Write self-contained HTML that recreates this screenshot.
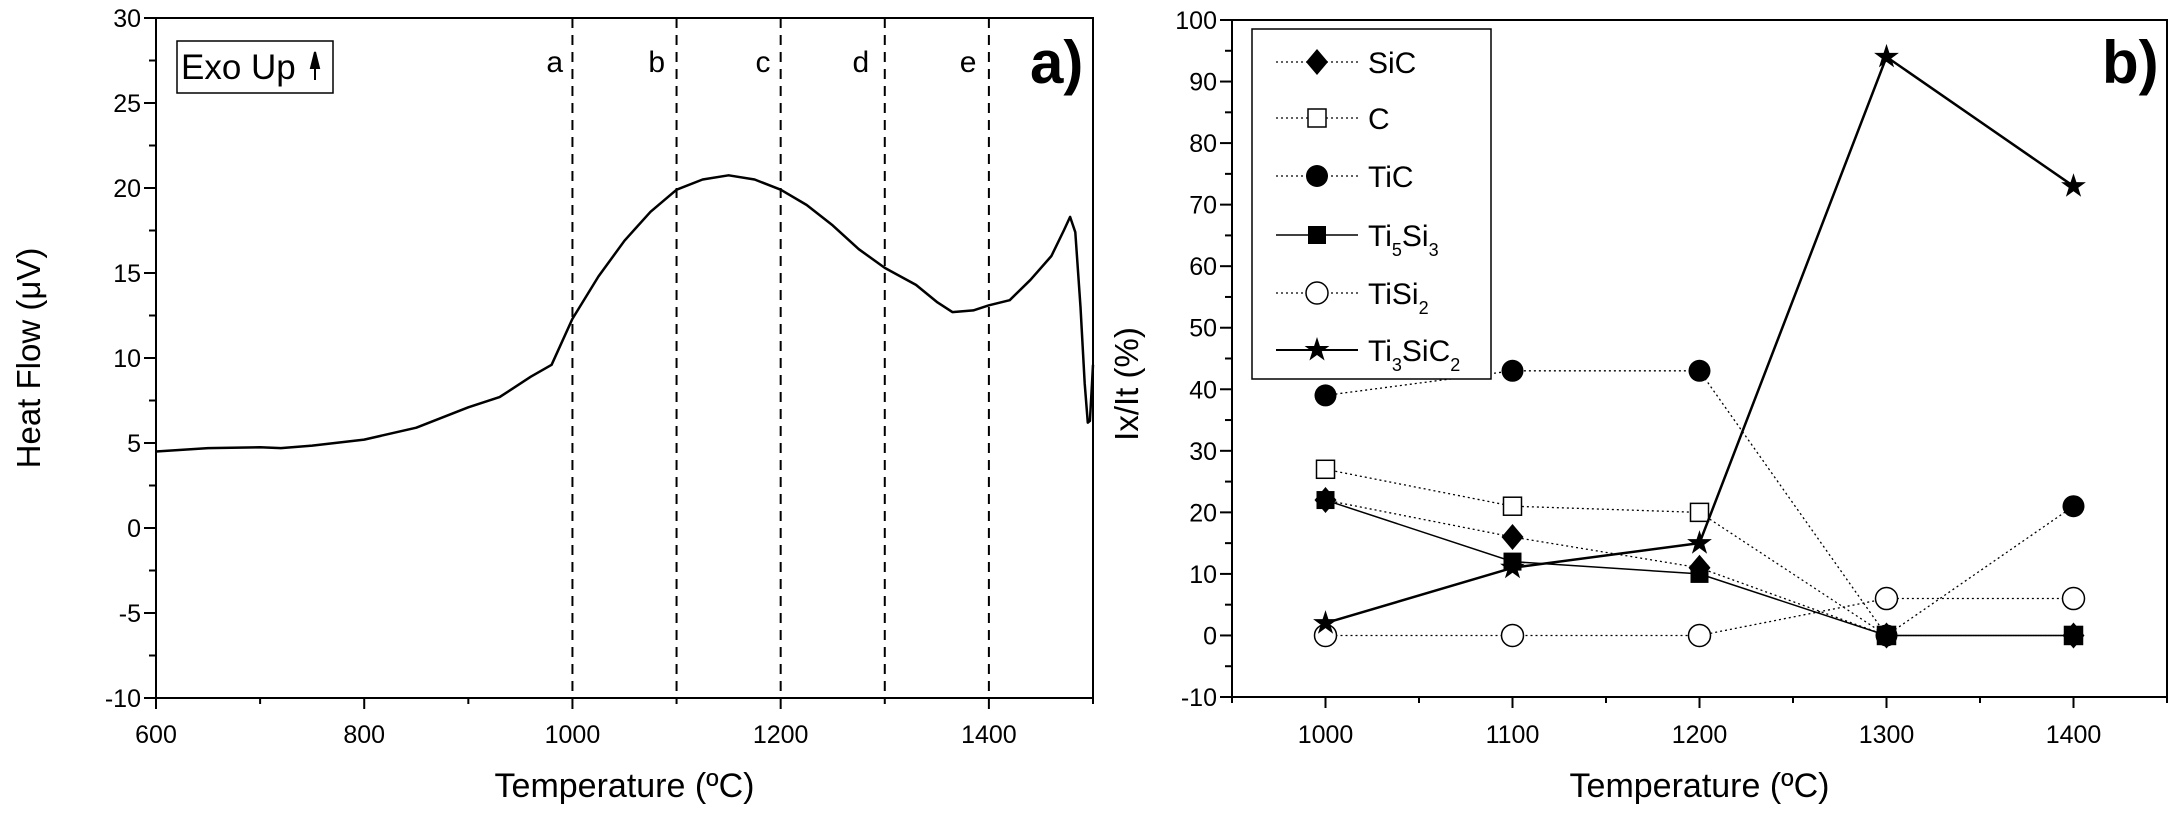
<!DOCTYPE html>
<html><head><meta charset="utf-8"><style>
html,body{margin:0;padding:0;background:#fff;}
svg{display:block;font-family:"Liberation Sans",Arial,sans-serif;}
</style></head><body>
<svg id="s" width="2175" height="821" viewBox="0 0 2175 821" xmlns="http://www.w3.org/2000/svg">
<g id="ga"></g>
<g id="gb"></g>
</svg>
<script>
// ---- Chart a data ----
const dscTemps = [600,650,700,720,750,800,850,900,930,960,980,1000,1025,1050,1075,1100,1125,1150,1175,1200,1225,1250,1275,1300,1330,1350,1365,1385,1400,1420,1440,1460,1472,1478,1483,1488,1492,1495,1497,1499,1500];
const dscFlow  = [4.5,4.7,4.75,4.7,4.85,5.2,5.9,7.1,7.7,8.9,9.6,12.3,14.8,16.9,18.6,19.9,20.5,20.75,20.5,19.9,19.0,17.8,16.4,15.3,14.3,13.3,12.7,12.8,13.1,13.4,14.6,16.0,17.5,18.3,17.4,13.0,8.5,6.2,6.3,8.5,9.6];
const aXTicks = [600,800,1000,1200,1400];
const aYTicks = [-10,-5,0,5,10,15,20,25,30];
const stageTemps = [1000,1100,1200,1300,1400];
const stageLabels = ['a','b','c','d','e'];
const stageLabelTemps = [983,1081,1183,1277,1380];
// ---- Chart b data ----
const bTemps = [1000,1100,1200,1300,1400];
const sicVals = [22,16,11,0,0];
const cVals = [27,21,20,0,0];
const ticVals = [39,43,43,0,21];
const ti5si3Vals = [22,12,10,0,0];
const tisi2Vals = [0,0,0,6,6];
const ti3sic2Vals = [2,11,15,94,73];
const bXTicks = [1000,1100,1200,1300,1400];
const bYTicks = [-10,0,10,20,30,40,50,60,70,80,90,100];

const NS='http://www.w3.org/2000/svg';
function mk(parent,tag,attrs,text){const e=document.createElementNS(NS,tag);for(const k in attrs)e.setAttribute(k,attrs[k]);if(text!==undefined)e.textContent=text;parent.appendChild(e);return e;}

// ===== Chart a =====
const ga=document.getElementById('ga');
const aL=156,aR=1093,aT=18,aB=698;
const ax=v=>aL+(v-600)/900*(aR-aL);
const ay=v=>aB-(v+10)/40*(aB-aT);
let fr=mk(ga,'rect',{x:aL,y:aT,width:aR-aL,height:aB-aT,fill:'none',stroke:'#000','stroke-width':2});


for(let v=600;v<=1500;v+=100){const maj=v%200===0;const t=mk(ga,'line',{x1:ax(v),x2:ax(v),y1:aB,y2:aB+(maj?11:6),stroke:'#000','stroke-width':2});

}
aXTicks.forEach(v=>{const t=mk(ga,'text',{x:ax(v),y:743,'font-size':25,'text-anchor':'middle'},String(v));

});
for(let v=-10;v<=30;v+=2.5){const maj=v%5===0;const t=mk(ga,'line',{x1:aL-(maj?12:7),x2:aL,y1:ay(v),y2:ay(v),stroke:'#000','stroke-width':2});

}
aYTicks.forEach(v=>{const t=mk(ga,'text',{x:aL-15,y:ay(v)+9,'font-size':25,'text-anchor':'end'},String(v));

});
stageTemps.forEach((v,i)=>{const l=mk(ga,'line',{x1:ax(v),x2:ax(v),y1:aT,y2:aB,stroke:'#000','stroke-width':2,'stroke-dasharray':'10,7'});


const t=mk(ga,'text',{x:ax(stageLabelTemps[i]),y:72,'font-size':30,'text-anchor':'middle'},stageLabels[i]);

});
let d='';dscTemps.forEach((v,i)=>{d+=(i?'L':'M')+ax(v).toFixed(1)+','+ay(dscFlow[i]).toFixed(1);});
let cp=mk(ga,'path',{d:d,fill:'none',stroke:'#000','stroke-width':2.5,'stroke-linejoin':'round'});


let eb=mk(ga,'rect',{x:177,y:41,width:156,height:52,fill:'#fff',stroke:'#000','stroke-width':1.5});


let et=mk(ga,'text',{x:181,y:79,'font-size':35},'Exo Up');


let ea=mk(ga,'path',{d:'M315,52 L311,68 L319,68 Z M315,60 L315,80',stroke:'#000','stroke-width':2,fill:'#000'});


let pa=mk(ga,'text',{x:1030,y:83,'font-size':60,'font-weight':'bold'},'a)');


let xta=mk(ga,'text',{x:(aL+aR)/2,y:797,'font-size':34,'text-anchor':'middle'},'Temperature (ºC)');


let yta=mk(ga,'text',{x:0,y:0,'font-size':33,'text-anchor':'middle',transform:'translate(40,358) rotate(-90)'},'Heat Flow (μV)');



// ===== Chart b =====
const gb=document.getElementById('gb');
const bL=1232,bR=2167,bT=20,bB=697;
const bx=v=>bL+(v-950)/500*(bR-bL);
const by=v=>bB-(v+10)/110*(bB-bT);
let fb=mk(gb,'rect',{x:bL,y:bT,width:bR-bL,height:bB-bT,fill:'none',stroke:'#000','stroke-width':2});


for(let v=950;v<=1450;v+=50){const maj=v%100===0;const t=mk(gb,'line',{x1:bx(v),x2:bx(v),y1:bB,y2:bB+(maj?11:6),stroke:'#000','stroke-width':2});

}
bXTicks.forEach(v=>{const t=mk(gb,'text',{x:bx(v),y:743,'font-size':25,'text-anchor':'middle'},String(v));

});
for(let v=-10;v<=100;v+=5){const maj=v%10===0;const t=mk(gb,'line',{x1:bL-(maj?12:7),x2:bL,y1:by(v),y2:by(v),stroke:'#000','stroke-width':2});

}
bYTicks.forEach(v=>{const t=mk(gb,'text',{x:bL-15,y:by(v)+9,'font-size':25,'text-anchor':'end'},String(v));

});

function marker(g,type,cx,cy){
  const r=11;let e;
  if(type==='diamond')e=mk(g,'path',{d:`M${cx},${cy-r-2}L${cx+r},${cy}L${cx},${cy+r+2}L${cx-r},${cy}Z`,fill:'#000'});
  else if(type==='osq')e=mk(g,'rect',{x:cx-9,y:cy-9,width:18,height:18,fill:'#fff',stroke:'#000','stroke-width':1.5});
  else if(type==='sq')e=mk(g,'rect',{x:cx-9,y:cy-9,width:18,height:18,fill:'#000'});
  else if(type==='circ')e=mk(g,'circle',{cx:cx,cy:cy,r:r,fill:'#000'});
  else if(type==='ocirc')e=mk(g,'circle',{cx:cx,cy:cy,r:r,fill:'#fff',stroke:'#000','stroke-width':1.5});
  else {let p='';for(let i=0;i<10;i++){const a=-Math.PI/2+i*Math.PI/5;const rr=i%2?5:13;p+=(i?'L':'M')+(cx+rr*Math.cos(a)).toFixed(1)+','+(cy+rr*Math.sin(a)).toFixed(1);}e=mk(g,'path',{d:p+'Z',fill:'#000'});}
  return e;
}
const series=[
 {name:'SiC',vals:sicVals,m:'diamond',dash:'2,3',w:1.3},
 {name:'C',vals:cVals,m:'osq',dash:'2,3',w:1.3},
 {name:'TiC',vals:ticVals,m:'circ',dash:'2,3',w:1.3},
 {name:'Ti5Si3',vals:ti5si3Vals,m:'sq',dash:'',w:1.5},
 {name:'TiSi2',vals:tisi2Vals,m:'ocirc',dash:'2,3',w:1.3},
 {name:'Ti3SiC2',vals:ti3sic2Vals,m:'star',dash:'',w:2.5}
];
series.forEach(s=>{
  const g=mk(gb,'g',{});
  
  
  let p='';s.vals.forEach((v,i)=>{p+=(i?'L':'M')+bx(bTemps[i]).toFixed(1)+','+by(v).toFixed(1);});
  const ln=mk(g,'path',{d:p,fill:'none',stroke:'#000','stroke-width':s.w,'stroke-dasharray':s.dash||'none'});
  
  
  s.vals.forEach((v,i)=>{const m=marker(g,s.m,bx(bTemps[i]),by(v));
    
    });
});
// legend
const lg=mk(gb,'g',{});


let lb=mk(lg,'rect',{x:1252,y:29,width:239,height:350,fill:'#fff',stroke:'#000','stroke-width':1.5});


const legY=[62,118,176,235,293,350];
const legLabels=['SiC','C','TiC','Ti<tspan font-size="18" dy="10">5</tspan><tspan dy="-10">Si</tspan><tspan font-size="18" dy="10">3</tspan>','Ti<tspan dy="0">Si</tspan><tspan font-size="18" dy="10">2</tspan>','Ti<tspan font-size="18" dy="10">3</tspan><tspan dy="-10">SiC</tspan><tspan font-size="18" dy="10">2</tspan>'];
series.forEach((s,i)=>{
  const e=mk(lg,'g',{});
  
  
  mk(e,'line',{x1:1276,x2:1358,y1:legY[i],y2:legY[i],stroke:'#000','stroke-width':s.w>2?2:s.w,'stroke-dasharray':s.dash||'none'});
  marker(e,s.m,1317,legY[i]);
  const t=mk(e,'text',{x:1368,y:legY[i]+11,'font-size':30});
  t.innerHTML=legLabels[i];
});
let pb=mk(gb,'text',{x:2102,y:83,'font-size':60,'font-weight':'bold'},'b)');


let xtb=mk(gb,'text',{x:(bL+bR)/2,y:797,'font-size':34,'text-anchor':'middle'},'Temperature (ºC)');


let ytb=mk(gb,'text',{x:0,y:0,'font-size':33,'text-anchor':'middle',transform:'translate(1138,384) rotate(-90)'},'Ix/It (%)');


</script>
</body></html>
